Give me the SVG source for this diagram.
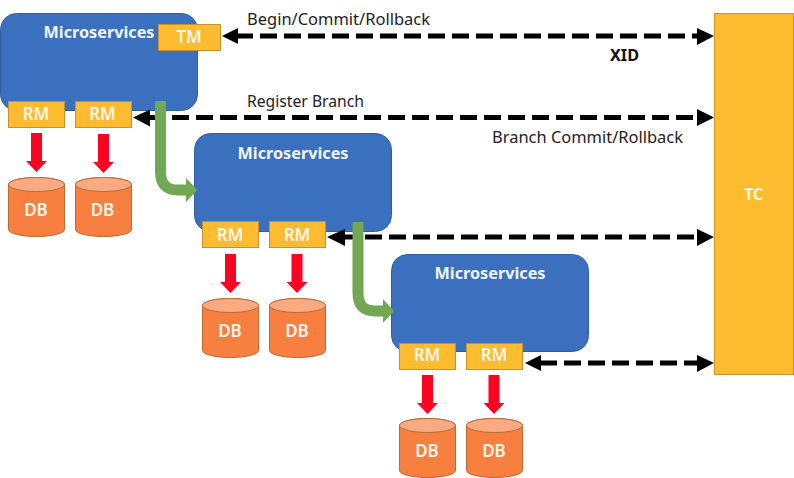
<svg xmlns="http://www.w3.org/2000/svg" width="794" height="478" viewBox="0 0 794 478">
<style>
text{font-family:"Noto Sans","Open Sans","DejaVu Sans",sans-serif}
.ms{fill:#3a70bd;stroke:#2f5f9f;stroke-width:1}
.box{fill:#fdbc30;stroke:#c8922b;stroke-width:1}
.w{fill:#fdf6ec;font-size:17px;font-weight:600;text-anchor:middle}
.h{fill:#f1f5fb;font-size:16px;font-weight:700;text-anchor:middle}
.cyl{fill:#f77f3f;stroke:#bd6a33;stroke-width:1}
.top{fill:#f8ab82;stroke:#bd6a33;stroke-width:1}
.d{stroke:#000;stroke-width:5;stroke-dasharray:17 7;fill:none}
.g{fill:none;stroke:#72a854;stroke-width:11}
.gh{fill:#72a854}
.r{fill:#fb0322}
.a{fill:#000}
.l{fill:#222;font-size:15.500px}
</style>
<defs>
<path id="cy" class="cyl" d="M0 7A28 7 0 0 1 56 7V52A28 7 0 0 1 0 52Z"/>
<ellipse id="ct" class="top" cx="28" cy="7" rx="28" ry="7"/>
<path id="ra" class="r" d="M-5.500 0H5.500V28H10.500L0 39L-10.500 28H-5.500Z"/>
</defs>
<g id="ms1"><rect class="ms" x="0.500" y="13.500" width="197" height="97" rx="16"/><text class="h" x="99" y="38" textLength="111" lengthAdjust="spacingAndGlyphs">Microservices</text></g>
<g id="ms2"><rect class="ms" x="194.500" y="133.500" width="197" height="98" rx="16"/><text class="h" x="293" y="159" textLength="111" lengthAdjust="spacingAndGlyphs">Microservices</text></g>
<g id="ms3"><rect class="ms" x="391.500" y="254.500" width="197" height="97" rx="16"/><text class="h" x="490" y="279" textLength="111" lengthAdjust="spacingAndGlyphs">Microservices</text></g>
<g id="tc"><rect class="box" x="714.500" y="13.500" width="79" height="361"/><text class="w" x="753.500" y="200" style="font-size:16px;font-weight:700">TC</text></g>
<g id="connectors">
<path class="d" d="M236 36H704"/><path class="a" d="M222 36L238 28V44Z"/><path class="a" d="M714 36L697 28V45Z"/>
<path class="d" d="M172 117.500H704"/><path class="a" d="M133 117.500L150 109.500V126.500Z"/><path class="a" d="M149 115H156V120H149Z"/><path class="a" d="M714 117.500L697 109V126Z"/>
<path class="d" d="M365 237H704"/><path class="a" d="M327 237L345 229V246Z"/><path class="a" d="M344 234.500H353V239.500H344Z"/><path class="a" d="M714 237L697 229V246Z"/>
<path class="d" d="M540 363H704"/><path class="a" d="M525 363L541 355V371Z"/><path class="a" d="M714 363L697 355V372Z"/>
<path class="g" d="M160.500 101V172Q160.500 190 178 190H188"/><path class="gh" d="M197.500 190L186 178V202Z"/>
<path class="g" d="M358 222V293Q358 311 375 311H385"/><path class="gh" d="M394 311L383 299V323Z"/>
<use href="#ra" x="36.500" y="133"/><use href="#ra" x="103.500" y="134"/>
<use href="#ra" x="230.500" y="254"/><use href="#ra" x="297" y="254"/>
<use href="#ra" x="427.500" y="375"/><use href="#ra" x="494" y="375"/>
</g>
<g id="tm"><rect class="box" x="158.500" y="24.500" width="62" height="26"/><text class="w" x="189" y="43">TM</text></g>
<g id="rm1"><rect class="box" x="8.500" y="101.500" width="56" height="26"/><text class="w" x="36" y="120">RM</text></g>
<g id="rm2"><rect class="box" x="75.500" y="101.500" width="56" height="26"/><text class="w" x="102.500" y="120">RM</text></g>
<g id="rm3"><rect class="box" x="202.500" y="221.500" width="56" height="26"/><text class="w" x="230" y="241">RM</text></g>
<g id="rm4"><rect class="box" x="269.500" y="221.500" width="56" height="26"/><text class="w" x="297" y="241">RM</text></g>
<g id="rm5"><rect class="box" x="399.500" y="343.500" width="56" height="26"/><text class="w" x="427" y="361">RM</text></g>
<g id="rm6"><rect class="box" x="466.500" y="343.500" width="56" height="26"/><text class="w" x="494" y="361">RM</text></g>
<g id="db1"><use href="#cy" x="8.500" y="177.500"/><use href="#ct" x="8.500" y="177.500"/><text class="w" x="36" y="216">DB</text></g>
<g id="db2"><use href="#cy" x="75.500" y="177.500"/><use href="#ct" x="75.500" y="177.500"/><text class="w" x="102.500" y="216">DB</text></g>
<g id="db3"><use href="#cy" x="202.500" y="298.500"/><use href="#ct" x="202.500" y="298.500"/><text class="w" x="230" y="337">DB</text></g>
<g id="db4"><use href="#cy" x="269.500" y="298.500"/><use href="#ct" x="269.500" y="298.500"/><text class="w" x="297" y="337">DB</text></g>
<g id="db5"><use href="#cy" x="399.500" y="418.500"/><use href="#ct" x="399.500" y="418.500"/><text class="w" x="427" y="457">DB</text></g>
<g id="db6"><use href="#cy" x="466.500" y="418.500"/><use href="#ct" x="466.500" y="418.500"/><text class="w" x="494" y="457">DB</text></g>
<text class="l" x="247" y="25" textLength="183" lengthAdjust="spacingAndGlyphs">Begin/Commit/Rollback</text>
<text class="l" x="247" y="107" textLength="117" lengthAdjust="spacingAndGlyphs">Register Branch</text>
<text class="l" x="492" y="143" textLength="191" lengthAdjust="spacingAndGlyphs">Branch Commit/Rollback</text>
<text x="610" y="61" style="font-size:15.500px;font-weight:700;fill:#111" textLength="29" lengthAdjust="spacingAndGlyphs">XID</text>
</svg>
